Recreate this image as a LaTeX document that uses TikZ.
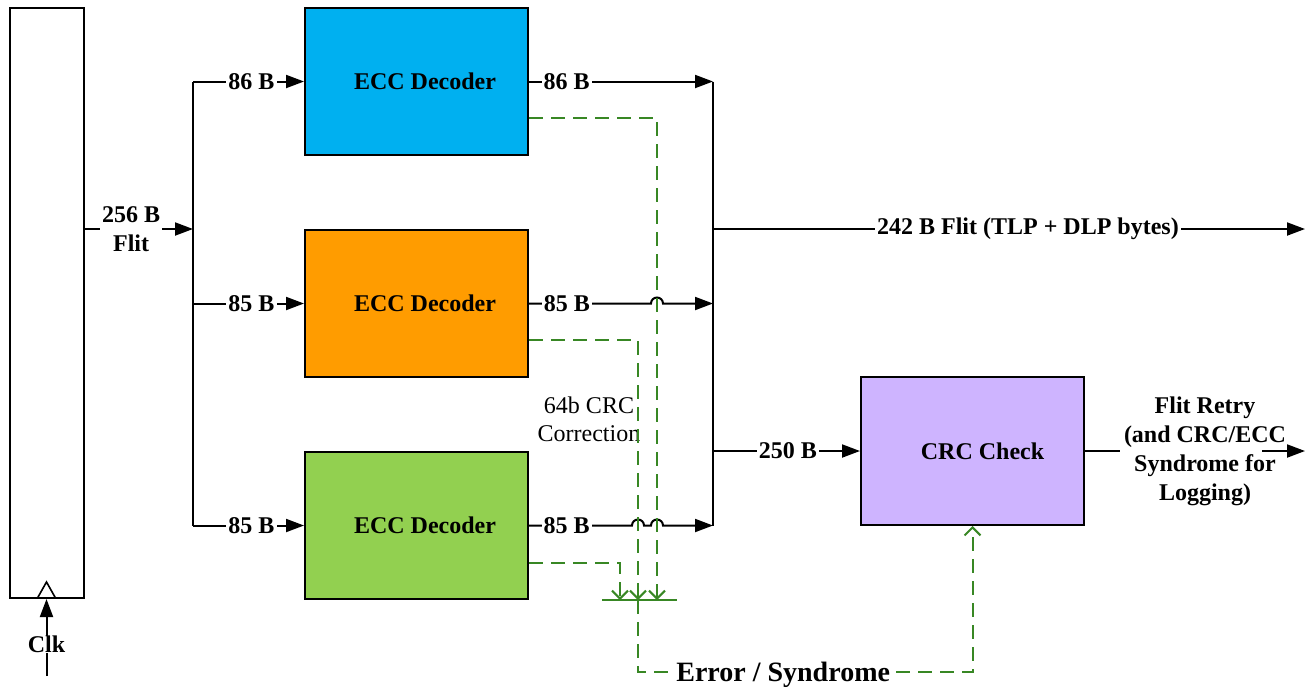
\documentclass[tikz,border=0pt]{standalone}
\usepackage{fontspec}
\setmainfont{Liberation Serif}
\usetikzlibrary{arrows.meta}
\definecolor{eccblue}{RGB}{0,176,240}
\definecolor{eccorange}{RGB}{255,156,0}
\definecolor{eccgreen}{RGB}{146,208,80}
\definecolor{crcpurple}{RGB}{206,180,255}
\definecolor{errgreen}{RGB}{56,135,36}
\begin{document}
\begin{tikzpicture}[x=1pt,y=-1pt,
 box/.style={draw=black,line width=2pt,minimum width=223pt,minimum height=147pt,inner sep=0pt,font=\fontsize{24}{29}\selectfont\bfseries},
 bus/.style={line width=2pt},
 flow/.style={line width=2pt,-{Triangle[length=18pt,width=13pt]}},
 lbl/.style={fill=white,inner xsep=2pt,inner ysep=0pt,font=\fontsize{24}{29}\selectfont\bfseries},
 err/.style={draw=errgreen,line width=2pt,dash pattern=on 14pt off 8pt},
 errarrow/.style={err,-{Straight Barb[length=8pt,width=16pt]}},
]
\useasboundingbox (0,0) rectangle (1305,689);
% register
\node[draw,line width=2pt,minimum width=74pt,minimum height=590pt,inner sep=0pt] (reg) at (46.5,303) {};
\draw[line width=1.6pt] (37.5,598) -- (46.5,582) -- (55.5,598);
% boxes
\node[box,fill=eccblue] (ecc1) at (416.5,81.5) {\hspace*{17pt}ECC Decoder};
\node[box,fill=eccorange] (ecc2) at (416.5,303.5) {\hspace*{17pt}ECC Decoder};
\node[box,fill=eccgreen] (ecc3) at (416.5,525.5) {\hspace*{17pt}ECC Decoder};
\node[box,fill=crcpurple,minimum height=148pt] (crc) at (972.5,451) {\hspace*{20pt}CRC Check};
% coordinates
\coordinate (inbus) at (193,229);
\coordinate (lb1) at (193,81.5);
\coordinate (lb2) at (193,303.5);
\coordinate (lb3) at (193,525.5);
\coordinate (rb1) at (713,81.5);
\coordinate (rb2) at (713,303.5);
\coordinate (rb3) at (713,525.5);
\coordinate (rbo) at (713,229);
\coordinate (rbc) at (713,451);
\coordinate (outR) at (1305,229);
\coordinate (retryout) at (1262,451);
\coordinate (outR2) at (1305,451);
\coordinate (clkin) at (46.5,676);
% clock
\draw[flow] (clkin) -- node[lbl,pos=0.41]{Clk} (reg.south);
% input
\draw[flow] (reg.east |- inbus) -- node[lbl,pos=0.43,align=center]{256 B\\Flit} (inbus);
\draw[bus] (lb1) -- (lb3);
\draw[flow] (lb1) -- node[lbl,pos=0.527]{86 B} (ecc1.west);
\draw[flow] (lb2) -- node[lbl,pos=0.527]{85 B} (ecc2.west);
\draw[flow] (lb3) -- node[lbl,pos=0.527]{85 B} (ecc3.west);
% outputs
\draw[bus] (rb1) -- (rb3);
\draw[flow] (ecc1.east) -- node[lbl,pos=0.205]{86 B} (rb1);
\draw[flow] (ecc2.east) -- node[lbl,pos=0.31]{85 B} (651,303.5)
   arc[start angle=180,end angle=0,radius=6pt] -- (rb2);
\draw[flow] (ecc3.east) -- node[lbl,pos=0.365]{85 B} (632,525.5)
   arc[start angle=180,end angle=0,radius=6pt] -- (651,525.5)
   arc[start angle=180,end angle=0,radius=6pt] -- (rb3);
\draw[flow] (rbo) -- node[lbl,pos=0.532]{242 B Flit (TLP + DLP bytes)} (outR);
\draw[flow] (rbc) -- node[lbl,pos=0.51]{250 B} (crc.west);
% retry
\node[font=\fontsize{24}{29}\selectfont\bfseries,align=center] (retry) at (1205,451) {Flit Retry\\(and CRC/ECC\\Syndrome for\\Logging)};
\draw[bus] (crc.east) -- (retry.west);
\draw[flow] (retryout) -- (outR2);
% label
\node[font=\fontsize{24}{28}\selectfont,align=center] (crclbl) at (589,419) {64b CRC\\Correction};
% error paths
\coordinate (ebL) at (602,600);
\coordinate (ebR) at (677,600);
\coordinate (eb1) at (657,600);
\coordinate (eb2) at (638,600);
\coordinate (eb3) at (620,600);
\draw[errarrow] ([yshift=-36.5pt]ecc1.east) -| (eb1);
\draw[errarrow] ([yshift=-36.5pt]ecc2.east) -| (eb2);
\draw[errarrow] ([yshift=-37.5pt]ecc3.east) -| (eb3);
\draw[draw=errgreen,line width=2pt] (ebL) -- (ebR);
\draw[errarrow] (eb2) |- node[lbl,pos=0.717,yshift=-3pt,font=\fontsize{28}{32}\selectfont\bfseries]{Error / Syndrome} (972.5,672) -- (crc.south);
\end{tikzpicture}
\end{document}
